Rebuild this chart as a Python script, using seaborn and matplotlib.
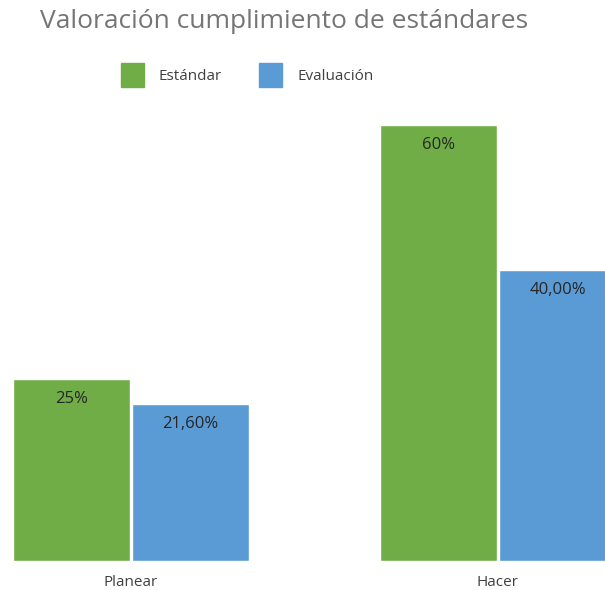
import pandas as pd
import seaborn as sns
import matplotlib.pyplot as plt
from matplotlib.patches import Patch

# Datos del gráfico
categorias = ["Planear", "Hacer"]
estandar = [25, 60]
evaluacion = [21.6, 40.0]
series = ["Estándar", "Evaluación"]
colores = ["#70AD47", "#5B9BD5"]

df = pd.DataFrame({
    "Fase": categorias * 2,
    "Serie": [series[0]] * len(categorias) + [series[1]] * len(categorias),
    "Valor": estandar + evaluacion,
})

sns.set_style("white")
plt.rcParams["font.family"] = ["Open Sans", "DejaVu Sans"]

fig = plt.figure(figsize=(6.05, 5.9), dpi=100)
ax = fig.add_axes([0, 29 / 590, 1, 436 / 590])

sns.barplot(data=df, x="Fase", y="Valor", hue="Serie", palette=colores,
            width=0.65, gap=0.02, saturation=1, legend=False, ax=ax)

ax.set_xlim(-131 / 367, (605 - 131) / 367)
ax.set_ylim(0, 60)
sns.despine(ax=ax, left=True, bottom=True)
ax.set_yticks([])
ax.set_xlabel("")
ax.set_ylabel("")
ax.tick_params(axis="x", length=0, pad=10, labelsize=11, labelcolor="#404040")

# Etiquetas de datos
formatos = [lambda v: f"{v:.0f}%", lambda v: f"{v:.2f}%".replace(".", ",")]
for cont, fmt in zip(ax.containers, formatos):
    ax.bar_label(cont, labels=[fmt(b.get_height()) for b in cont],
                 label_type="edge", padding=-20, fontsize=12, color="#262626")

fig.text(284 / 605, 1 - 22 / 590, "Valoración cumplimiento de estándares",
         ha="center", va="center", fontsize=19, color="#757575")

handles = [Patch(facecolor=c, edgecolor=c) for c in colores]
fig.legend(handles, series, loc="center", bbox_to_anchor=(247 / 605, 1 - 75 / 590),
           ncol=2, frameon=False, fontsize=11, labelcolor="#404040",
           handlelength=1.5, handleheight=2.0, handletextpad=1.0, columnspacing=2.4)

fig.savefig("out.png", dpi=100)
